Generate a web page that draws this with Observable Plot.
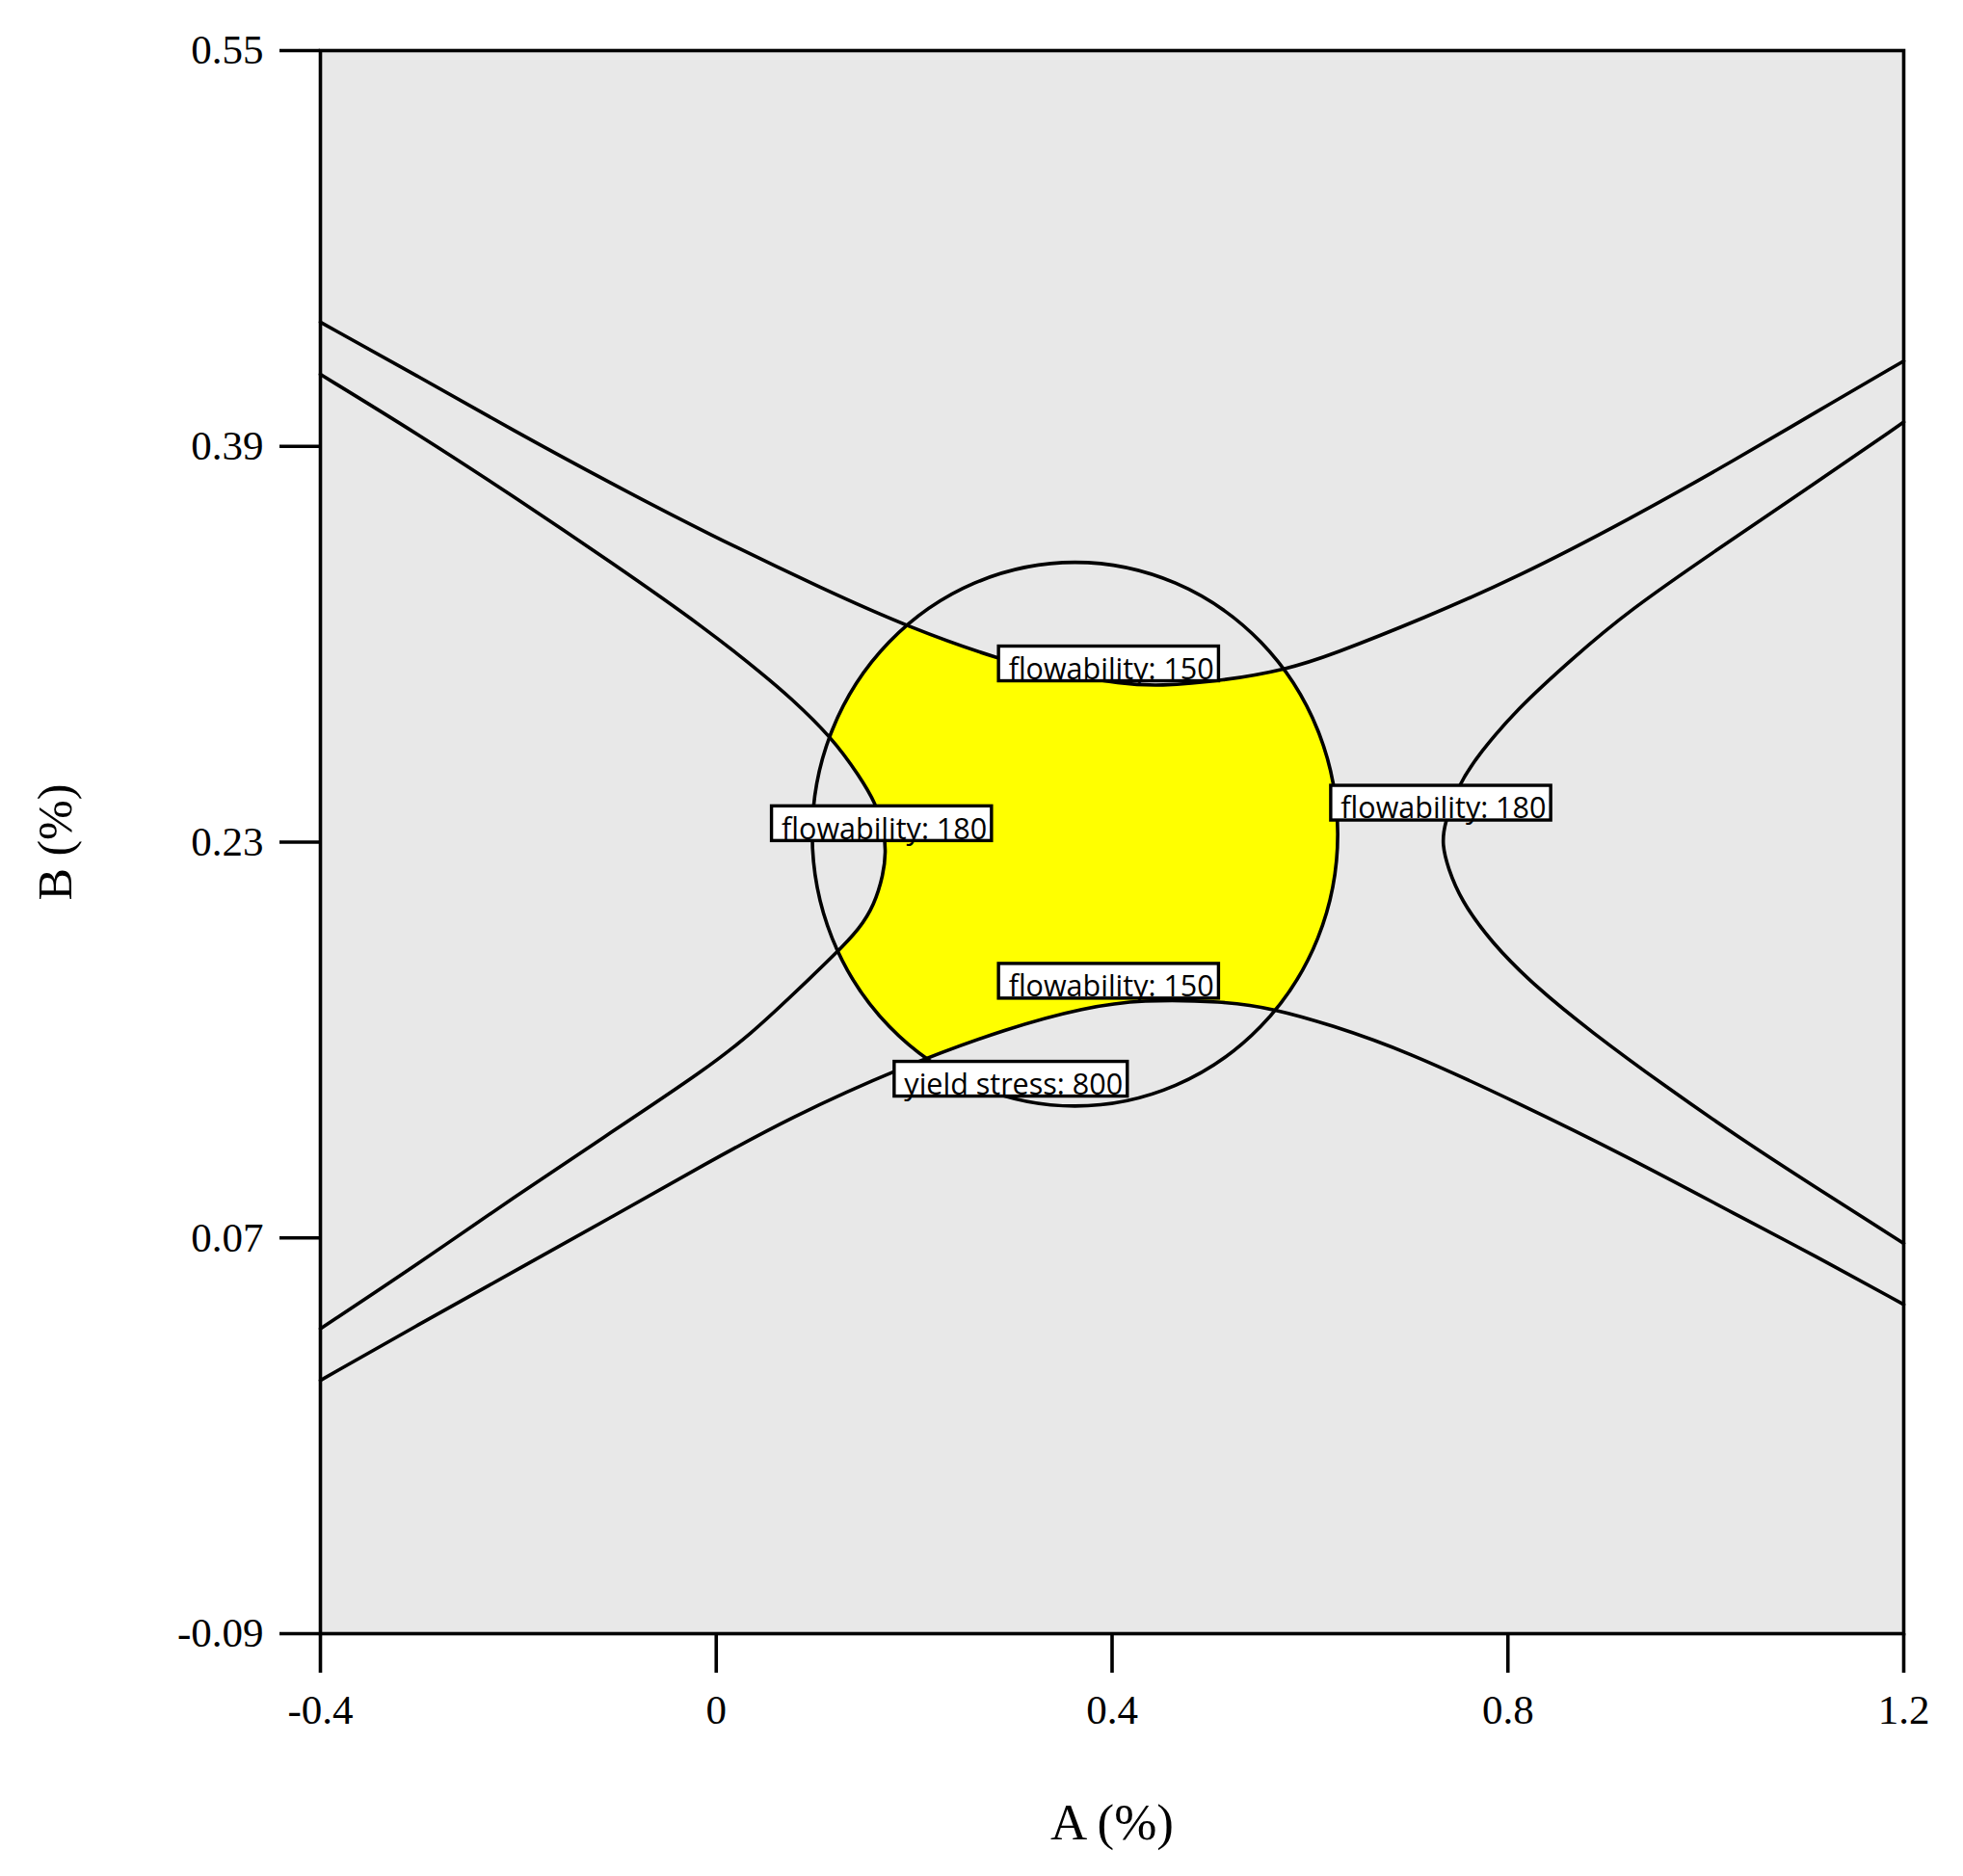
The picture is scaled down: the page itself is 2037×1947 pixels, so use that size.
<!DOCTYPE html>
<html>
<head>
<meta charset="utf-8">
<script src="https://cdn.jsdelivr.net/npm/d3@7"></script>
<script src="https://cdn.jsdelivr.net/npm/@observablehq/plot@0.6"></script>
<style>
  html, body { margin: 0; padding: 0; background: #ffffff; overflow: hidden; }
</style>
</head>
<body>
<div id="chart"></div>
<script>
// ---- axes ----
const xDomain = [-0.4, 1.2];
const yDomain = [-0.09, 0.55];
const xTicks = [-0.4, 0, 0.4, 0.8, 1.2];
const xTickLabels = ["-0.4", "0", "0.4", "0.8", "1.2"];
const yTicks = [-0.09, 0.07, 0.23, 0.39, 0.55];
const yTickLabels = ["-0.09", "0.07", "0.23", "0.39", "0.55"];
const xTitle = "A (%)";
const yTitle = "B (%)";

// ---- contour: flowability 150 (upper) ----
const upper150A = [-0.4, -0.3016, -0.2041, -0.1067, -0.0093, 0.1111, 0.1950, 0.2864, 0.3484, 0.4095, 0.4468, 0.5121, 0.5772, 0.6212, 0.7149, 0.8086, 0.9210, 1.0334, 1.1084, 1.2];
const upper150B = [0.4402, 0.4184, 0.3962, 0.3751, 0.3548, 0.3317, 0.3168, 0.3037, 0.2978, 0.2940, 0.2930, 0.2952, 0.2999, 0.3056, 0.3205, 0.3369, 0.3601, 0.3854, 0.4032, 0.4245];

// ---- contour: flowability 150 (lower) ----
const lower150A = [-0.4, -0.3016, -0.2041, -0.1067, -0.0093, 0.0739, 0.1856, 0.2976, 0.3721, 0.4295, 0.5121, 0.5623, 0.6212, 0.6961, 0.8086, 0.9210, 1.0334, 1.1084, 1.2];
const lower150B = [0.0124, 0.0348, 0.0565, 0.0782, 0.1003, 0.1185, 0.1389, 0.1553, 0.1631, 0.1664, 0.1657, 0.1628, 0.1561, 0.1457, 0.1249, 0.1028, 0.0788, 0.0632, 0.0431];

// ---- contour: flowability 180 (left branch) ----
const left180A = [-0.4, -0.3016, -0.2041, -0.1067, -0.0093, 0.0492, 0.0739, 0.1167, 0.1447, 0.1615, 0.1697, 0.1714, 0.1690, 0.1596, 0.1447, 0.1223, 0.0739, 0.0365, -0.0093, -0.1067, -0.2041, -0.3016, -0.4];
const left180B = [0.4191, 0.3950, 0.3696, 0.3433, 0.3160, 0.2972, 0.2888, 0.2724, 0.2567, 0.2455, 0.2345, 0.2260, 0.2170, 0.2045, 0.1950, 0.1855, 0.1670, 0.1530, 0.1385, 0.1125, 0.0866, 0.0594, 0.0333];

// ---- contour: flowability 180 (right branch) ----
const right180A = [1.2, 1.1084, 1.0147, 0.9210, 0.8648, 0.8086, 0.7711, 0.7505, 0.7355, 0.7336, 0.7393, 0.7523, 0.7824, 0.8273, 0.8835, 0.9585, 1.0334, 1.1084, 1.2];
const right180B = [0.3998, 0.3745, 0.3492, 0.3233, 0.3041, 0.2836, 0.2658, 0.2536, 0.2372, 0.2289, 0.2197, 0.2067, 0.1898, 0.1717, 0.1535, 0.1314, 0.1106, 0.0911, 0.0678];

// ---- design-space boundary (yield stress: 800 ellipse) ----
const ellipseA = [0.628, 0.6078, 0.5502, 0.4641, 0.3625, 0.2609, 0.1748, 0.1172, 0.097, 0.1172, 0.1748, 0.2609, 0.3625, 0.4641, 0.5502, 0.6078];
const ellipseB = [0.2332, 0.2753, 0.3109, 0.3347, 0.3431, 0.3347, 0.3109, 0.2753, 0.2332, 0.1911, 0.1555, 0.1317, 0.1233, 0.1317, 0.1555, 0.1911];

// ---- contour labels ----
const labelText = ["flowability: 150", "flowability: 180", "flowability: 180", "flowability: 150", "yield stress: 800"];
const labelA = [0.3992, 0.1698, 0.7349, 0.3992, 0.3004];
const labelB = [0.2997, 0.2351, 0.2434, 0.1714, 0.1318];

// ---- colours ----
const bgGray = "#e8e8e8";
const feasibleYellow = "#ffff00";

const toRows = (A, B) => A.map((a, i) => ({A: a, B: B[i]}));
const upper150 = toRows(upper150A, upper150B);
const lower150 = toRows(lower150A, lower150B);
const left180 = toRows(left180A, left180B);
const right180 = toRows(right180A, right180B);
const ellipse = toRows(ellipseA, ellipseB);
const labels = labelText.map((t, i) => ({label: t, A: labelA[i], B: labelB[i]}));

const contourCurve = "basis";
const lineStyle = {x: "A", y: "B", curve: contourCurve, stroke: "black", strokeWidth: 3.6};

const chart = Plot.plot({
  width: 2037,
  height: 1947,
  marginLeft: 332,
  marginRight: 62,
  marginTop: 52,
  marginBottom: 252,
  x: {domain: xDomain},
  y: {domain: yDomain},
  style: {fontFamily: "'Liberation Serif', 'Times New Roman', serif", fontSize: "43px", color: "black", background: "white", overflow: "visible"},
  marks: [
    Plot.frame({fill: bgGray}),
    // feasible region: ellipse filled yellow, then infeasible parts covered
    Plot.line(ellipse, {x: "A", y: "B", curve: "catmull-rom-closed", fill: feasibleYellow, stroke: "none"}),
    Plot.area(upper150, {x1: "A", y1: d => yDomain[1], y2: "B", curve: contourCurve, fill: bgGray}),
    Plot.area(lower150, {x1: "A", y1: d => yDomain[0], y2: "B", curve: contourCurve, fill: bgGray}),
    Plot.area(left180, {y1: "B", x1: d => xDomain[0], x2: "A", curve: contourCurve, fill: bgGray}),
    // contour lines
    Plot.line(upper150, lineStyle),
    Plot.line(lower150, lineStyle),
    Plot.line(left180, lineStyle),
    Plot.line(right180, lineStyle),
    Plot.line(ellipse, {x: "A", y: "B", curve: "catmull-rom-closed", stroke: "black", strokeWidth: 3.6, fill: "none"}),
    // labels
    Plot.text(labels, {x: "A", y: "B", text: "label", fontFamily: "'Open Sans', 'Noto Sans', sans-serif", fontSize: 30.5, fill: "black", textAnchor: "middle", lineAnchor: "middle"}),
    // axes
    Plot.axisX(xTicks, {tickSize: 41, tickPadding: 22, strokeWidth: 3.6, fontSize: 43, label: null,
      tickFormat: d => xTickLabels[xTicks.indexOf(d)]}),
    Plot.axisY(yTicks, {tickSize: 42, tickPadding: 17, strokeWidth: 3.6, fontSize: 43, label: null,
      tickFormat: d => yTickLabels[yTicks.indexOf(d)]}),
    Plot.text([xTitle], {frameAnchor: "bottom", dy: 197, text: d => d, fontSize: 53, fill: "black", textAnchor: "middle", lineAnchor: "middle"}),
    Plot.text([yTitle], {frameAnchor: "left", dx: -275, rotate: -90, text: d => d, fontSize: 50, fill: "black", textAnchor: "middle", lineAnchor: "middle"}),
    Plot.frame({stroke: "black", strokeWidth: 3.6})
  ]
});

document.getElementById("chart").append(chart);

// white boxes behind contour labels, sized from the rendered text
const labelSet = new Set(labelText);
const ns = "http://www.w3.org/2000/svg";
chart.querySelectorAll("text").forEach(t => {
  if (!labelSet.has(t.textContent)) return;
  const n = t.getNumberOfChars();
  const s = t.getStartPositionOfChar(0);
  const e = t.getEndPositionOfChar(n - 1);
  const r = document.createElementNS(ns, "rect");
  r.setAttribute("x", s.x - 10.5);
  r.setAttribute("y", s.y - 34.3);
  r.setAttribute("width", (e.x - s.x) + 15.2);
  r.setAttribute("height", 36);
  r.setAttribute("fill", "white");
  r.setAttribute("stroke", "black");
  r.setAttribute("stroke-width", 3.4);
  if (t.hasAttribute("transform")) r.setAttribute("transform", t.getAttribute("transform"));
  t.parentNode.insertBefore(r, t);
});
</script>
</body>
</html>
